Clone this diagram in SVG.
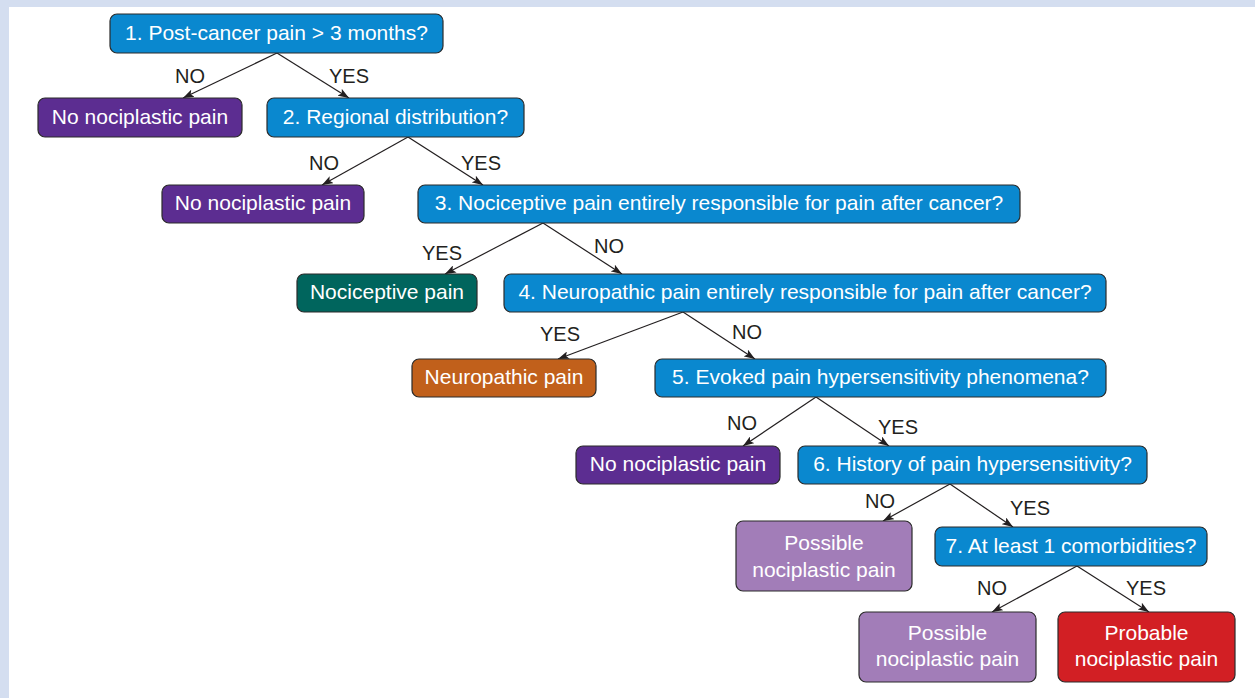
<svg xmlns="http://www.w3.org/2000/svg" width="1255" height="698" viewBox="0 0 1255 698">
<style>
.box{stroke:#2b2b2b;stroke-width:1.2}
.q{fill:#0a88cf}
.no{fill:#5c2d91}
.noci{fill:#00655d}
.neuro{fill:#c1601b}
.poss{fill:#a27db8}
.prob{fill:#d21f24}
.t{font-family:"Liberation Sans",Arial,sans-serif;font-size:21px;fill:#ffffff;text-anchor:middle}
.lbl{font-family:"Liberation Sans",Arial,sans-serif;font-size:20px;fill:#231f20;text-anchor:middle}
.c line{stroke:#231f20;stroke-width:1.2;fill:none}
</style>
<defs>
<marker id="ah" viewBox="0 0 11 8" refX="11" refY="4" markerWidth="11" markerHeight="8" markerUnits="userSpaceOnUse" orient="auto">
<path d="M0,0 L11,4 L0,8 L2.5,4 Z" fill="#231f20"/>
</marker>
</defs>
<rect width="1255" height="698" fill="#ffffff"/>
<rect x="0" y="0" width="1255" height="7" fill="#d4def0"/>
<rect x="0" y="0" width="9" height="698" fill="#d4def0"/>

<g class="c">
<line x1="277" y1="53" x2="183" y2="98" marker-end="url(#ah)"/>
<line x1="277" y1="53" x2="349" y2="98" marker-end="url(#ah)"/>
<line x1="408" y1="137" x2="322" y2="185" marker-end="url(#ah)"/>
<line x1="408" y1="137" x2="483" y2="185" marker-end="url(#ah)"/>
<line x1="543" y1="223" x2="445" y2="274" marker-end="url(#ah)"/>
<line x1="543" y1="223" x2="622" y2="274" marker-end="url(#ah)"/>
<line x1="683" y1="312" x2="558" y2="359" marker-end="url(#ah)"/>
<line x1="683" y1="312" x2="755" y2="359" marker-end="url(#ah)"/>
<line x1="816" y1="397" x2="743" y2="446" marker-end="url(#ah)"/>
<line x1="816" y1="397" x2="889" y2="446" marker-end="url(#ah)"/>
<line x1="950" y1="484" x2="883" y2="521" marker-end="url(#ah)"/>
<line x1="950" y1="484" x2="1013" y2="527" marker-end="url(#ah)"/>
<line x1="1077" y1="566" x2="992" y2="612" marker-end="url(#ah)"/>
<line x1="1077" y1="566" x2="1149" y2="612" marker-end="url(#ah)"/>
</g>

<g id="labels">
<text class="lbl" x="190" y="83">NO</text>
<text class="lbl" x="349" y="83">YES</text>
<text class="lbl" x="324" y="170">NO</text>
<text class="lbl" x="481" y="170">YES</text>
<text class="lbl" x="442" y="260">YES</text>
<text class="lbl" x="609" y="253">NO</text>
<text class="lbl" x="560" y="341">YES</text>
<text class="lbl" x="747" y="339">NO</text>
<text class="lbl" x="742" y="430">NO</text>
<text class="lbl" x="898" y="434">YES</text>
<text class="lbl" x="880" y="508">NO</text>
<text class="lbl" x="1030" y="515">YES</text>
<text class="lbl" x="992" y="595">NO</text>
<text class="lbl" x="1146" y="595">YES</text>
</g>

<g id="n1"><rect class="box q" x="110" y="14" width="333" height="39" rx="7"/><text class="t" x="276.5" y="40">1. Post-cancer pain &gt; 3 months?</text></g>
<g id="a1"><rect class="box no" x="38" y="98" width="204" height="39" rx="7"/><text class="t" x="140" y="124">No nociplastic pain</text></g>
<g id="n2"><rect class="box q" x="267" y="98" width="257" height="39" rx="7"/><text class="t" x="395.5" y="124">2. Regional distribution?</text></g>
<g id="a2"><rect class="box no" x="162" y="185" width="202" height="38" rx="7"/><text class="t" x="263" y="210">No nociplastic pain</text></g>
<g id="n3"><rect class="box q" x="418" y="185" width="602" height="38" rx="7"/><text class="t" x="719" y="210">3. Nociceptive pain entirely responsible for pain after cancer?</text></g>
<g id="a3"><rect class="box noci" x="297" y="274" width="180" height="38" rx="7"/><text class="t" x="387" y="299">Nociceptive pain</text></g>
<g id="n4"><rect class="box q" x="504" y="274" width="602" height="38" rx="7"/><text class="t" x="805" y="299">4. Neuropathic pain entirely responsible for pain after cancer?</text></g>
<g id="a4"><rect class="box neuro" x="412" y="359" width="184" height="38" rx="7"/><text class="t" x="504" y="384">Neuropathic pain</text></g>
<g id="n5"><rect class="box q" x="655" y="359" width="451" height="38" rx="7"/><text class="t" x="880.5" y="384">5. Evoked pain hypersensitivity phenomena?</text></g>
<g id="a5"><rect class="box no" x="576" y="446" width="204" height="38" rx="7"/><text class="t" x="678" y="471">No nociplastic pain</text></g>
<g id="n6"><rect class="box q" x="798" y="446" width="349" height="38" rx="7"/><text class="t" x="972.5" y="471">6. History of pain hypersensitivity?</text></g>
<g id="a6"><rect class="box poss" x="736" y="521" width="176" height="70" rx="7"/><text class="t" x="824" y="550">Possible</text><text class="t" x="824" y="577">nociplastic pain</text></g>
<g id="n7"><rect class="box q" x="935" y="527" width="272" height="39" rx="7"/><text class="t" x="1071" y="553">7. At least 1 comorbidities?</text></g>
<g id="a7"><rect class="box poss" x="859" y="612" width="177" height="70" rx="7"/><text class="t" x="947.5" y="640">Possible</text><text class="t" x="947.5" y="666">nociplastic pain</text></g>
<g id="a8"><rect class="box prob" x="1058" y="612" width="177" height="70" rx="7"/><text class="t" x="1146.5" y="640">Probable</text><text class="t" x="1146.5" y="666">nociplastic pain</text></g>
</svg>
